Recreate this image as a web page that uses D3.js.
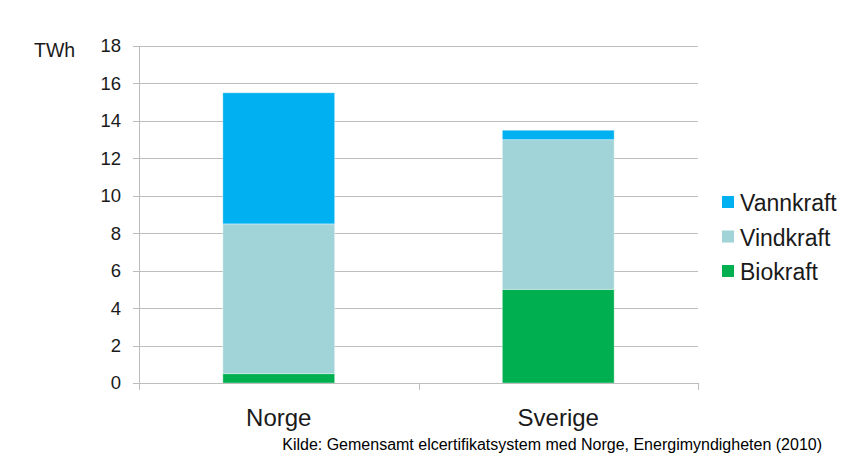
<!DOCTYPE html>
<html>
<head>
<meta charset="utf-8">
<script src="https://cdn.jsdelivr.net/npm/d3@7"></script>
<style>
  body { margin: 0; background: #fff; }
  svg { display: block; font-family: "Liberation Sans", Arial, sans-serif; }
</style>
</head>
<body>
<svg id="chart" width="842" height="457"></svg>
<script>
// data (TWh)
const countries = ['Norge', 'Sverige'];
const seriesNames = ['Biokraft', 'Vindkraft', 'Vannkraft'];
const biokraft = [0.5, 5.0];
const vindkraft = [8.0, 8.0];
const vannkraft = [7.0, 0.5];
const yTicks = [0, 2, 4, 6, 8, 10, 12, 14, 16, 18];
const colors = { Biokraft: '#00b050', Vindkraft: '#a0d4d8', Vannkraft: '#00b0f0' };
const sourceText = 'Kilde: Gemensamt elcertifikatsystem med Norge, Energimyndigheten (2010)';

// plot box
const margin = { top: 46, left: 139, right: 144, bottom: 74 };
const width = 842 - margin.left - margin.right;   // ~559
const height = 457 - margin.top - margin.bottom;  // ~337

const svg = d3.select('#chart');
const g = svg.append('g').attr('transform', `translate(${margin.left},${margin.top})`);

// rows for the stack
const rows = countries.map((c, i) => ({
  country: c,
  Biokraft: biokraft[i],
  Vindkraft: vindkraft[i],
  Vannkraft: vannkraft[i]
}));
const stacked = d3.stack().keys(seriesNames)(rows);

const x = d3.scaleBand().domain(countries).range([0, width]).padding(0);
const y = d3.scaleLinear().domain([0, 18]).range([height, 0]);
const barW = x.bandwidth() * 0.4;

// gridlines (with the little ticks sticking out left)
g.append('g')
  .selectAll('line')
  .data(yTicks)
  .enter()
  .append('line')
    .attr('x1', -6)
    .attr('x2', width)
    .attr('y1', d => Math.round(y(d)) + 0.5)
    .attr('y2', d => Math.round(y(d)) + 0.5)
    .attr('stroke', '#bdbdbd')
    .attr('stroke-width', 1);

// y axis line
g.append('line')
  .attr('x1', 0.5).attr('x2', 0.5)
  .attr('y1', 0).attr('y2', height)
  .attr('stroke', '#bdbdbd');

// y labels
g.append('g')
  .selectAll('text')
  .data(yTicks)
  .enter()
  .append('text')
    .attr('x', -18)
    .attr('y', d => y(d))
    .attr('dy', '0.35em')
    .attr('text-anchor', 'end')
    .attr('font-size', 18.5)
    .attr('fill', '#1a1a1a')
    .text(d => d);

// bars
g.append('g')
  .selectAll('g')
  .data(stacked)
  .enter()
  .append('g')
    .attr('fill', d => colors[d.key])
  .selectAll('rect')
  .data(d => d)
  .enter()
  .append('rect')
    .attr('x', d => x(d.data.country) + (x.bandwidth() - barW) / 2)
    .attr('y', d => y(d[1]))
    .attr('width', barW)
    .attr('height', d => y(d[0]) - y(d[1]))
    .attr('stroke', 'rgba(255,255,255,0.35)')
    .attr('stroke-width', 1);

// x axis line + ticks
const xAxisG = g.append('g').attr('transform', `translate(0,${height})`);
xAxisG.append('line')
  .attr('x1', 0).attr('x2', width)
  .attr('y1', 0.5).attr('y2', 0.5)
  .attr('stroke', '#bdbdbd');
const xTickPos = [0].concat(countries.map(c => x(c) + x.bandwidth()));
xAxisG.selectAll('.xtick')
  .data(xTickPos)
  .enter()
  .append('line')
    .attr('class', 'xtick')
    .attr('x1', d => Math.round(d) + 0.5)
    .attr('x2', d => Math.round(d) + 0.5)
    .attr('y1', 0)
    .attr('y2', 7)
    .attr('stroke', '#bdbdbd');
xAxisG.selectAll('.xlabel')
  .data(countries)
  .enter()
  .append('text')
    .attr('class', 'xlabel')
    .attr('x', d => x(d) + x.bandwidth() / 2)
    .attr('y', 43)
    .attr('text-anchor', 'middle')
    .attr('font-size', 24)
    .attr('fill', '#1a1a1a')
    .text(d => d);

// unit label
svg.append('text')
  .attr('x', 34)
  .attr('y', 57)
  .attr('font-size', 19.5)
  .attr('fill', '#1a1a1a')
  .text('TWh');

// legend (top entry = top of stack)
const legend = svg.append('g').attr('transform', 'translate(722,196)');
const legendItems = seriesNames.slice().reverse();
const li = legend.selectAll('g')
  .data(legendItems)
  .enter()
  .append('g')
    .attr('transform', (d, i) => `translate(0,${i * 34.5})`);
li.append('rect')
  .attr('width', 12)
  .attr('height', 12)
  .attr('fill', d => colors[d]);
li.append('text')
  .attr('x', 18)
  .attr('y', 15)
  .attr('font-size', 23)
  .attr('fill', '#1a1a1a')
  .text(d => d);

// source
svg.append('text')
  .attr('x', 822)
  .attr('y', 450)
  .attr('text-anchor', 'end')
  .attr('font-size', 16)
  .attr('fill', '#000')
  .text(sourceText);
</script>
</body>
</html>
